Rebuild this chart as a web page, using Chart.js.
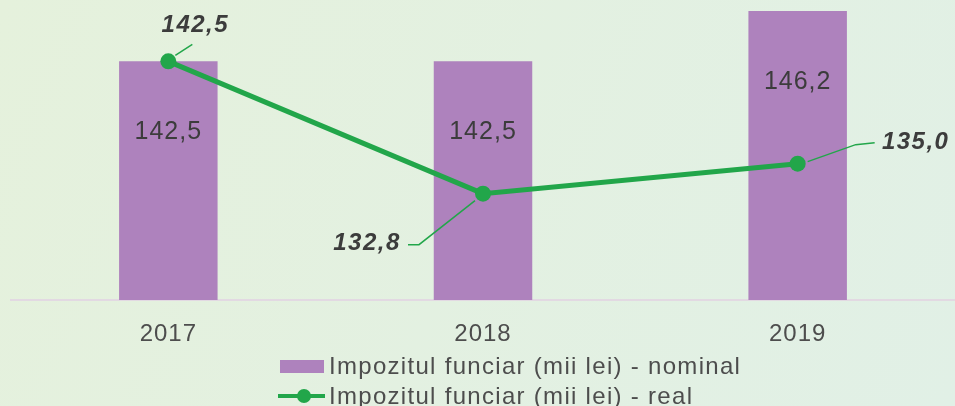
<!DOCTYPE html>
<html>
<head>
<meta charset="utf-8">
<script src="https://cdn.jsdelivr.net/npm/chart.js@4.4.0/dist/chart.umd.min.js"></script>
<style>
html,body{margin:0;padding:0;background:#e4f0de;}
canvas{display:block;}
</style>
</head>
<body>
<canvas id="c" width="955" height="406"></canvas>
<script>
const categories = ['2017', '2018', '2019'];
const nominalValues = [142.5, 142.5, 146.2];
const realValues = [142.5, 132.8, 135.0];
const seriesNames = ['Impozitul funciar (mii lei) - nominal', 'Impozitul funciar (mii lei) - real'];

const BAR_COLOR = '#ae82bd';
const LINE_COLOR = '#22a64a';
const TEXT_COLOR = '#3c3c3c';
const FONT_FAMILY = '"Liberation Sans", Arial, sans-serif';
const fmt = v => v.toFixed(1).replace('.', ',');

// leader-line / label placement for the line labels, relative to each point
const lineLabelStyle = [
  { dx: 27, dy: -36, leader: [[7, -6], [24, -17]] },
  { dx: -116, dy: 50, leader: [[-8, 7], [-64, 51], [-75, 51]] },
  { dx: 118, dy: -21, leader: [[10, -2], [58, -19], [77, -21]] }
];

const bgPlugin = {
  id: 'bg',
  beforeDraw(chart) {
    const { ctx, width, height } = chart;
    const g = ctx.createLinearGradient(0, 0, width, height);
    g.addColorStop(0, '#e5f1dc');
    g.addColorStop(1, '#e1f0e6');
    ctx.save();
    ctx.fillStyle = g;
    ctx.fillRect(0, 0, width, height);
    ctx.restore();
    try { ctx.letterSpacing = '1px'; } catch (e) {}
  }
};

const labelPlugin = {
  id: 'labels',
  afterDatasetsDraw(chart) {
    const { ctx } = chart;
    ctx.save();
    try { ctx.letterSpacing = '1px'; } catch (e) {}
    // bar labels
    const barMeta = chart.getDatasetMeta(0);
    ctx.font = '25px ' + FONT_FAMILY;
    ctx.fillStyle = TEXT_COLOR;
    ctx.textAlign = 'center';
    ctx.textBaseline = 'middle';
    barMeta.data.forEach((el, i) => {
      ctx.fillText(fmt(nominalValues[i]), el.x, el.y + 71);
    });
    // line labels
    const lineMeta = chart.getDatasetMeta(1);
    ctx.font = 'italic bold 24px ' + FONT_FAMILY;
    try { ctx.letterSpacing = '1.5px'; } catch (e) {}
    lineMeta.data.forEach((el, i) => {
      const s = lineLabelStyle[i];
      ctx.strokeStyle = LINE_COLOR;
      ctx.lineWidth = 1.5;
      ctx.beginPath();
      s.leader.forEach((p, k) => {
        if (k === 0) ctx.moveTo(el.x + p[0], el.y + p[1]);
        else ctx.lineTo(el.x + p[0], el.y + p[1]);
      });
      ctx.stroke();
      ctx.fillStyle = TEXT_COLOR;
      ctx.fillText(fmt(realValues[i]), el.x + s.dx, el.y + s.dy);
    });
    ctx.restore();
  }
};

const legendPlugin = {
  id: 'customLegend',
  afterDraw(chart) {
    const { ctx } = chart;
    const x0 = 280, y1 = 366, y2 = 396;
    ctx.save();
    ctx.font = '24px ' + FONT_FAMILY;
    try { ctx.letterSpacing = '1.3px'; } catch (e) {}
    ctx.textAlign = 'left';
    ctx.textBaseline = 'middle';
    // bar entry
    ctx.fillStyle = BAR_COLOR;
    ctx.fillRect(x0, y1 - 6, 44, 13);
    ctx.fillStyle = '#4d4d4d';
    ctx.fillText(chart.data.datasets[0].label, x0 + 49, y1 + 1);
    // line entry
    ctx.strokeStyle = LINE_COLOR;
    ctx.lineWidth = 4;
    ctx.beginPath();
    ctx.moveTo(x0 - 2, y2);
    ctx.lineTo(x0 + 45, y2);
    ctx.stroke();
    ctx.fillStyle = LINE_COLOR;
    ctx.beginPath();
    ctx.arc(x0 + 24, y2, 7, 0, Math.PI * 2);
    ctx.fill();
    ctx.fillStyle = '#4d4d4d';
    ctx.fillText(chart.data.datasets[1].label, x0 + 49, y2 + 1);
    ctx.restore();
  }
};

new Chart(document.getElementById('c'), {
  data: {
    labels: categories,
    datasets: [
      {
        type: 'bar',
        label: seriesNames[0],
        data: nominalValues,
        backgroundColor: BAR_COLOR,
        borderWidth: 0,
        categoryPercentage: 1,
        barPercentage: 0.313,
        order: 2
      },
      {
        type: 'line',
        label: seriesNames[1],
        data: realValues,
        borderColor: LINE_COLOR,
        backgroundColor: LINE_COLOR,
        borderWidth: 5,
        pointRadius: 8,
        pointBorderWidth: 0,
        pointBackgroundColor: LINE_COLOR,
        tension: 0,
        clip: false,
        order: 1
      }
    ]
  },
  options: {
    responsive: false,
    animation: false,
    layout: { autoPadding: false, padding: { left: 11, right: 0, top: 0, bottom: 0 } },
    plugins: { legend: { display: false }, tooltip: { enabled: false } },
    scales: {
      x: {
        type: 'category',
        offset: true,
        grid: { display: false, drawTicks: false },
        border: { display: true, color: '#e2d9e2', width: 2 },
        ticks: {
          color: '#4d4d4d',
          font: { size: 24, family: FONT_FAMILY },
          padding: 20
        },
        afterFit(scale) { scale.height = 106; }
      },
      y: {
        display: false,
        min: 125,
        max: 147
      }
    }
  },
  plugins: [bgPlugin, labelPlugin, legendPlugin]
});
</script>
</body>
</html>
